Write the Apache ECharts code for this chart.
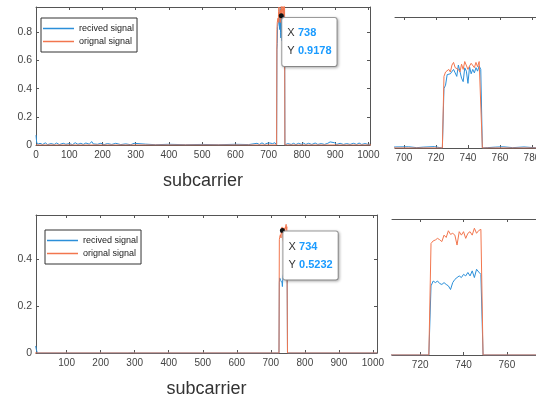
<!DOCTYPE html>
<html>
<head>
<meta charset="utf-8">
<script src="https://cdn.jsdelivr.net/npm/echarts@6.0.0/dist/echarts.min.js"></script>
<style>
  html, body { margin: 0; padding: 0; background: #fff; }
  #chart { width: 536px; height: 399px; }
</style>
</head>
<body>
<div id="chart"></div>
<script>
// subcarriers of the occupied block
const blockX = [725, 726, 727, 728, 729, 730, 731, 732, 733, 734, 735, 736,
  737, 738, 739, 740, 741, 742, 743, 744, 745, 746, 747, 748];

// top figure
const recived1 = [0.68, 0.72, 0.84, 0.83, 0.85, 0.84, 0.90, 0.86, 0.82, 0.95, 0.97, 0.80,
  0.76, 0.9178, 0.88, 0.74, 0.93, 0.85, 0.90, 0.86, 0.92, 0.88, 0.94, 0.90];
const orignal1 = [0.82, 0.87, 0.88, 0.90, 0.87, 0.95, 0.98, 0.92, 0.94, 0.90, 0.87, 0.96,
  0.90, 0.99, 1.0, 0.90, 0.94, 0.97, 0.99, 0.92, 0.98, 0.93, 0.99, 0.97];

// bottom figure
const recived2 = [0.30, 0.321, 0.314, 0.321, 0.31, 0.306, 0.314, 0.306, 0.30, 0.284, 0.314, 0.328,
  0.336, 0.343, 0.336, 0.35, 0.343, 0.358, 0.343, 0.365, 0.336, 0.372, 0.36, 0.35];
const orignal2 = [0.484, 0.495, 0.499, 0.506, 0.50, 0.492, 0.52, 0.51, 0.539, 0.5232, 0.528, 0.52,
  0.477, 0.535, 0.52, 0.535, 0.506, 0.528, 0.535, 0.52, 0.55, 0.528, 0.54, 0.545];

// low level noise of the received signal outside the block [subcarrier, value]
const noiseBefore1 = [[0, 0.07], [2, 0.02], [5, 0.005], [12, 0.012], [20, 0.004], [28, 0.015],
  [35, 0.003], [45, 0.01], [55, 0.004], [62, 0.014], [70, 0.003], [82, 0.012], [90, 0.005],
  [100, 0.01], [110, 0.003], [118, 0.016], [126, 0.005], [135, 0.012], [142, 0.004], [150, 0.014],
  [160, 0.006], [168, 0.024], [172, 0.008], [178, 0.02], [185, 0.005], [195, 0.012], [205, 0.003],
  [215, 0.01], [228, 0.004], [240, 0.012], [255, 0.003], [270, 0.008], [285, 0.002], [295, 0.012],
  [300, 0.002], [330, 0.006], [360, 0.002], [400, 0.005], [450, 0.002], [500, 0.004], [550, 0.002],
  [600, 0.005], [640, 0.003], [665, 0.012], [672, 0.004], [680, 0.015], [688, 0.004], [695, 0.012],
  [703, 0.014], [708, 0.004], [712, 0.01], [719, 0.016], [722, 0.006], [724, 0]];
const noiseAfter1 = [[749, 0], [752, 0.004], [757, 0.01], [762, 0.014], [768, 0.004], [775, 0.012],
  [782, 0.003], [790, 0.012], [798, 0.005], [805, 0.013], [812, 0.004], [820, 0.012], [830, 0.004],
  [840, 0.014], [848, 0.004], [858, 0.01], [868, 0.004], [878, 0.012], [885, 0.022], [890, 0.008],
  [898, 0.016], [905, 0.004], [915, 0.012], [925, 0.004], [935, 0.01], [945, 0.004], [955, 0.012],
  [965, 0.004], [972, 0.014], [980, 0.004], [990, 0.01], [1000, 0.004], [1005, 0.006]];
const noiseBefore2 = [[9, 0.03], [11, 0.015], [14, 0], [280, 0], [285, 0.004], [292, 0.001],
  [296, 0.003], [300, 0], [724, 0]];
const noiseAfter2 = [[749, 0], [1012, 0]];
const flatBefore = [[0, 0], [724, 0]];
const flatAfter = [[749, 0], [1012, 0]];

// tick labels
const xTicksTop = [0, 100, 200, 300, 400, 500, 600, 700, 800, 900, 1000];
const xTicksBottom = [100, 200, 300, 400, 500, 600, 700, 800, 900, 1000];
const yTicksTop = [0, 0.2, 0.4, 0.6, 0.8];
const yTicksBottom = [0, 0.2, 0.4];
const xTicksZoomTop = [700, 720, 740, 760, 780];
const xTicksZoomBottom = [720, 740, 760, 780];

const BLUE = '#2b8fd9';
const ORANGE = '#f2764e';
const AXIS = '#555';
const LABEL = '#444';
const FONT = "'Liberation Sans', sans-serif";

function pairs(xs, ys) {
  return xs.map((x, i) => [x, ys[i]]);
}

const recivedTop = noiseBefore1.concat(pairs(blockX, recived1), noiseAfter1);
const orignalTop = flatBefore.concat(pairs(blockX, orignal1), flatAfter);
const recivedBottom = noiseBefore2.concat(pairs(blockX, recived2), noiseAfter2);
const orignalBottom = flatBefore.concat(pairs(blockX, orignal2), flatAfter);

function xAxis(gridIndex, min, max, ticks, position, showLabel, name) {
  return {
    type: 'value',
    gridIndex: gridIndex,
    position: position,
    min: min,
    max: max,
    name: name || '',
    nameLocation: 'middle',
    nameGap: 27,
    nameTextStyle: { fontSize: 18, color: '#333', fontFamily: FONT },
    splitLine: { show: false },
    axisLine: { onZero: false, lineStyle: { color: AXIS, width: 1 } },
    axisTick: { inside: true, length: 3, customValues: ticks, lineStyle: { color: AXIS } },
    axisLabel: {
      show: showLabel,
      customValues: ticks,
      formatter: (v) => String(v),
      margin: 5,
      fontSize: 10,
      color: LABEL,
      fontFamily: FONT,
    },
  };
}

function yAxis(gridIndex, min, max, ticks, position, showLabel) {
  return {
    type: 'value',
    gridIndex: gridIndex,
    position: position,
    min: min,
    max: max,
    splitLine: { show: false },
    axisLine: { show: true, onZero: false, lineStyle: { color: AXIS, width: 1 } },
    axisTick: { show: true, inside: true, length: 3, customValues: ticks, lineStyle: { color: AXIS } },
    axisLabel: {
      show: showLabel,
      customValues: ticks,
      formatter: (v) => String(v),
      margin: 4,
      fontSize: 10.5,
      color: LABEL,
      fontFamily: FONT,
    },
  };
}

function hiddenY(gridIndex, max) {
  return { type: 'value', gridIndex: gridIndex, min: 0, max: max, show: false };
}

function line(name, color, data, xi, yi, extra) {
  return Object.assign({
    name: name,
    type: 'line',
    xAxisIndex: xi,
    yAxisIndex: yi,
    data: data,
    color: color,
    showSymbol: false,
    symbol: 'none',
    lineStyle: { color: color, width: 1 },
    animation: false,
  }, extra || {});
}

function dataTip(x, y, offset) {
  return {
    symbol: 'circle',
    symbolSize: 5,
    itemStyle: { color: '#111' },
    animation: false,
    data: [{ coord: [x, y] }],
    label: {
      show: true,
      position: offset,
      align: 'left',
      verticalAlign: 'top',
      formatter: '{k|X} {v|' + x + '}\n{k|Y} {v|' + y + '}',
      backgroundColor: '#fff',
      borderColor: '#a0a0a0',
      borderWidth: 1,
      borderRadius: 2,
      shadowColor: 'rgba(0,0,0,0.25)',
      shadowBlur: 3,
      shadowOffsetX: 1,
      shadowOffsetY: 1,
      padding: [6, 5, 6, 5],
      lineHeight: 18,
      rich: {
        k: { fontSize: 11, color: '#333', fontFamily: FONT, lineHeight: 18 },
        v: { fontSize: 11, color: '#1a9bff', fontWeight: 'bold', fontFamily: FONT, lineHeight: 18 },
      },
    },
  };
}

function legend(left, top) {
  return {
    left: left,
    top: top,
    orient: 'vertical',
    icon: 'rect',
    itemWidth: 31,
    itemHeight: 1.5,
    itemGap: 4,
    padding: [6, 3, 6, 2],
    borderColor: '#333',
    borderWidth: 1,
    backgroundColor: '#fff',
    selectedMode: false,
    textStyle: { fontSize: 9, color: '#222', fontFamily: FONT },
    data: ['recived signal', 'orignal signal'],
  };
}

const chart = echarts.init(document.getElementById('chart'), null, { renderer: 'canvas' });
chart.setOption({
  animation: false,
  backgroundColor: '#fff',
  legend: [legend(41, 18), legend(45, 230)],
  grid: [
    { left: 36, top: 7, width: 334, height: 138, outerBoundsMode: 'none' },
    { left: 395, top: 17, width: 160, height: 131, outerBoundsMode: 'none' },
    { left: 36, top: 215, width: 341, height: 138, outerBoundsMode: 'none' },
    { left: 392, top: 219, width: 160, height: 136, outerBoundsMode: 'none' },
  ],
  xAxis: [
    xAxis(0, 0, 1005, xTicksTop, 'bottom', true, 'subcarrier'),
    xAxis(0, 0, 1005, xTicksTop, 'top', false),
    xAxis(1, 694.4, 794.4, xTicksZoomTop, 'bottom', true),
    xAxis(1, 694.4, 794.4, xTicksZoomTop, 'top', false),
    xAxis(2, 10, 1012, xTicksBottom, 'bottom', true, 'subcarrier'),
    xAxis(2, 10, 1012, xTicksBottom, 'top', false),
    xAxis(3, 707, 780.8, xTicksZoomBottom, 'bottom', true),
    xAxis(3, 707, 780.8, xTicksZoomBottom, 'top', false),
  ],
  yAxis: [
    yAxis(0, 0, 0.98, yTicksTop, 'left', true),
    yAxis(0, 0, 0.98, yTicksTop, 'right', false),
    hiddenY(1, 1.5),
    yAxis(2, 0, 0.59, yTicksBottom, 'left', true),
    yAxis(2, 0, 0.59, yTicksBottom, 'right', false),
    hiddenY(3, 0.59),
  ],
  series: [
    line('recived signal', BLUE, recivedTop, 0, 0, { markPoint: dataTip(738, 0.9178, [3.5, 4.8]) }),
    line('orignal signal', ORANGE, orignalTop, 0, 0),
    line('recived signal', BLUE, recivedTop, 2, 2),
    line('orignal signal', ORANGE, orignalTop, 2, 2),
    line('recived signal', BLUE, recivedBottom, 4, 3),
    line('orignal signal', ORANGE, orignalBottom, 4, 3, { markPoint: dataTip(734, 0.5232, [3.5, 3.5]) }),
    line('recived signal', BLUE, recivedBottom, 6, 5),
    line('orignal signal', ORANGE, orignalBottom, 6, 5),
  ],
});
</script>
</body>
</html>
